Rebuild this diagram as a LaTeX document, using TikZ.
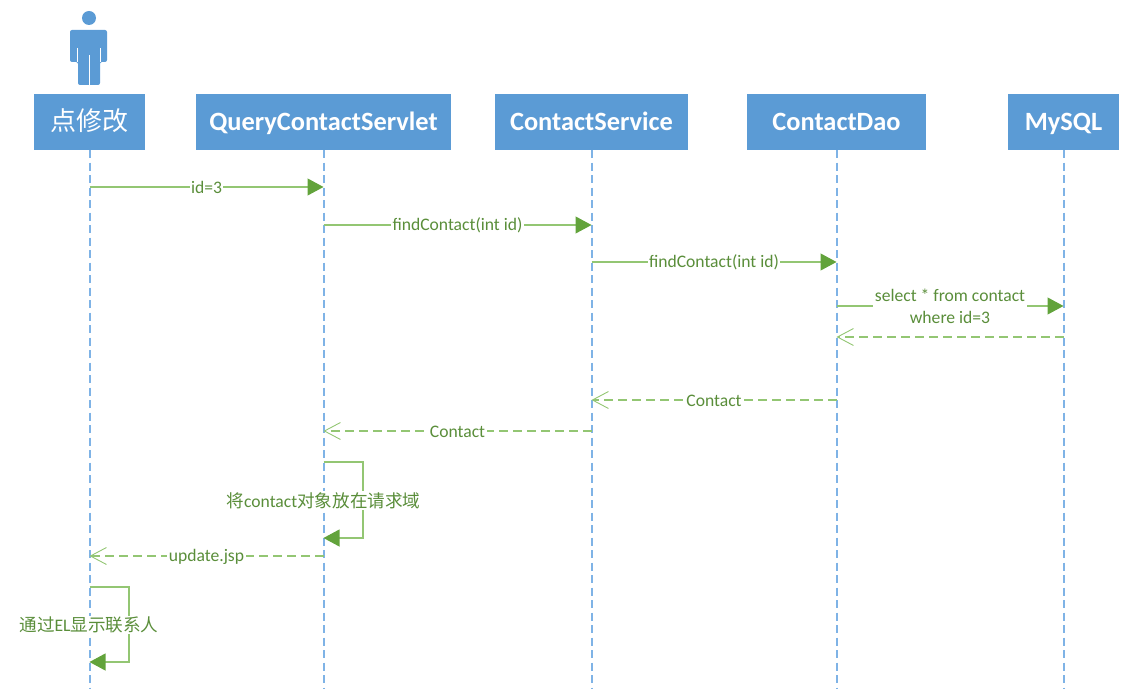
\documentclass[tikz,border=0pt]{standalone}
\usepackage{fontspec}
\setmainfont{Carlito}
\newfontfamily\cjk{Noto Sans CJK SC}
\usetikzlibrary{arrows.meta,calc}
\definecolor{boxblue}{HTML}{5B9BD5}
\definecolor{lifeblue}{HTML}{7FB3E6}
\definecolor{msgline}{HTML}{93C673}
\definecolor{tipgreen}{HTML}{62A33B}
\definecolor{lblgreen}{HTML}{5A8E3A}
\tikzset{
  party/.style={draw=none,fill=boxblue,text=white,inner sep=0pt,minimum height=56pt,text height=21pt,text depth=3pt,font=\fontsize{26.4}{30}\selectfont\bfseries},
  lifeline/.style={draw=lifeblue,line width=2pt,dash pattern=on 8pt off 4.5pt},
  msg/.style={draw=msgline,line width=1.1pt,-{Triangle[length=16pt,width=17pt,fill=tipgreen,color=tipgreen]}},
  reply/.style={draw=msgline,line width=1.1pt,dash pattern=on 9pt off 5pt,-{Straight Barb[length=16pt,width=17pt,line width=.9pt,color=msgline]}},
  lbl/.style={fill=white,text=lblgreen,inner xsep=1.5pt,inner ysep=1pt,yshift=-0.5pt,font=\fontsize{17.6}{22}\selectfont,align=center},
}
\begin{document}
\begin{tikzpicture}[x=1pt,y=-1pt]
\useasboundingbox (0,0) rectangle (1140,692);
% actor
\fill[boxblue] (89,18) circle (7);
\fill[boxblue,rounded corners=2pt] (70,62) -- (70,30) -- (107,30) -- (107,62) -- (100,62) -- (100,85) -- (78,85) -- (78,62) -- cycle;
\draw[white,line width=.8pt] (77.5,48) -- (77.5,62) (100.5,48) -- (100.5,62) (89,55) -- (89,85);
% parties
\node[party,minimum width=111pt] (a) at (89.5,122) {\cjk\mdseries\fontsize{26}{30}\selectfont 点修改};
\node[party,minimum width=255pt] (b) at (323.5,122) {QueryContactServlet};
\node[party,minimum width=193pt] (c) at (591.5,122) {ContactService};
\node[party,minimum width=179pt] (d) at (836.5,122) {ContactDao};
\node[party,minimum width=111pt] (e) at (1063.5,122) {MySQL};
% lifelines
\foreach \n in {a,b,c,d,e}{
  \coordinate (\n end) at (\n |- 0,688);
  \draw[lifeline] (\n.south) -- (\n end);
}
% messages
\draw[msg] (a |- 0,187) -- node[lbl] (m1) {id=3} (b |- 0,187);
\draw[msg] (b |- 0,225) -- node[lbl] (m2) {findContact(int id)} (c |- 0,225);
\draw[msg] (c |- 0,262) -- node[lbl] (m3) {findContact(int id)} (d |- 0,262);
\draw[msg] (d |- 0,306) -- node[lbl] (m4) {select * from contact\\where id=3} (e |- 0,306);
\draw[reply] (e |- 0,337) -- (d |- 0,337);
\draw[reply] (d |- 0,400) -- node[lbl] (m6) {Contact} (c |- 0,400);
\draw[reply] (c |- 0,431) -- node[lbl] (m7) {Contact} (b |- 0,431);
\draw[msg] (b |- 0,462) -- (363,462) -- (363,538) -- (b |- 0,538);
\node[lbl] (m8) at (323.5,500) {\cjk 将\normalfont contact\cjk 对象放在请求域};
\draw[reply] (b |- 0,556) -- node[lbl] (m9) {update.jsp} (a |- 0,556);
\draw[msg] (a |- 0,587) -- (129,587) -- (129,662) -- (a |- 0,662);
\node[lbl] (m10) at (89,624.5) {\cjk 通过\normalfont EL\cjk 显示联系人};
\end{tikzpicture}
\end{document}
